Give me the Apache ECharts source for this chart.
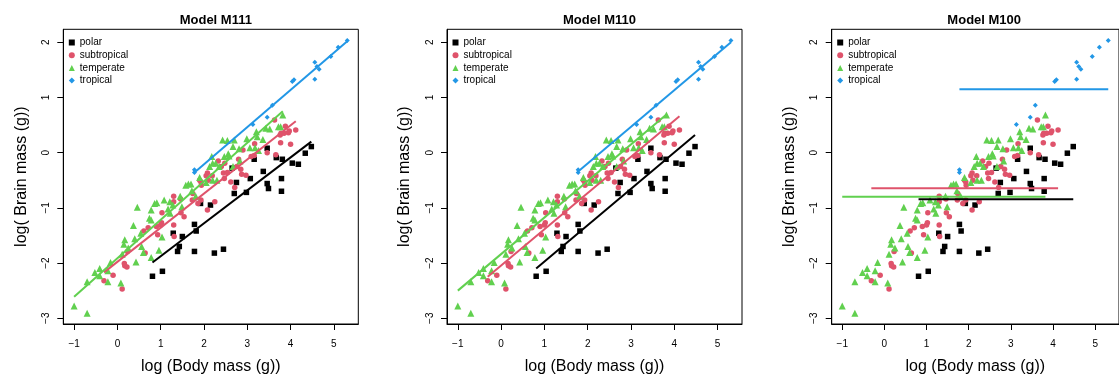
<!DOCTYPE html>
<html>
<head>
<meta charset="utf-8">
<script src="https://cdn.jsdelivr.net/npm/echarts@6/dist/echarts.min.js"></script>
<style>
html,body{margin:0;padding:0;background:#fff;}
#chart{width:1119px;height:381px;}
</style>
</head>
<body>
<div id="chart"></div>
<script>
// ---------- data ----------
const groups = ['polar', 'subtropical', 'temperate', 'tropical'];
const panelTitles = ['Model M111', 'Model M110', 'Model M100'];
const xTicks = [-1, 0, 1, 2, 3, 4, 5];
const yTicks = [-3, -2, -1, 0, 1, 2];
const xName = 'log (Body mass (g))';
const yName = 'log( Brain mass (g))';

const polar = [
  [0.81,-2.24],[1.04,-2.15],[1.29,-1.46],[1.50,-1.52],[1.43,-1.70],[1.39,-1.79],
  [1.78,-1.30],[1.82,-1.42],[1.78,-1.79],[1.92,-0.92],[2.15,-0.95],[2.24,-1.82],
  [2.45,-1.75],[2.65,-0.28],[2.75,-0.54],[2.70,-0.74],[2.98,-0.72],[3.07,-0.47],
  [3.16,-0.12],[3.37,-0.34],[3.46,0.08],[3.46,-0.56],[3.49,-0.65],[3.67,-0.09],
  [3.81,-0.12],[3.79,-0.47],[3.79,-0.70],[4.04,-0.19],[4.18,-0.21],[4.34,-0.01],
  [4.48,0.11]
];
const subtropical = [
  [-0.31,-2.32],[-0.10,-2.22],[0.11,-2.47],[0.16,-2.01],[0.17,-2.05],[0.22,-2.07],
  [0.23,-1.79],[0.64,-1.82],[0.61,-1.42],[0.71,-1.36],[0.93,-1.49],[0.90,-1.34],
  [1.00,-1.31],[1.02,-1.27],[1.03,-1.09],[1.30,-0.79],[1.30,-0.89],[1.30,-1.31],
  [1.31,-1.52],[1.46,-0.84],[1.47,-1.09],[1.54,-1.16],[1.74,-0.74],[1.73,-0.86],
  [1.86,-0.92],[1.90,-0.50],[1.94,-0.59],[2.05,-0.42],[2.08,-0.37],[2.08,-1.04],
  [2.10,-0.50],[2.25,-0.89],[2.33,-0.15],[2.45,-0.37],[2.48,-0.19],[2.54,-0.36],
  [2.62,-0.53],[2.71,-0.63],[2.76,-0.25],[2.80,-0.12],[2.85,-0.30],[2.87,-0.39],
  [2.90,0.05],[2.97,-0.41],[3.09,-0.07],[3.17,0.16],[3.16,-0.05],[3.46,0.00],
  [3.63,0.59],[3.66,-0.04],[3.77,0.18],[3.76,0.32],[3.78,0.35],[3.85,0.35],
  [3.88,0.48],[3.95,0.36],[3.97,0.39],[4.00,0.15],[4.12,0.41],
  [1.93,-0.53],[2.40,-0.25],[2.47,-0.47],[1.93,-0.86],[2.19,-0.42]
];
const temperate = [
  [-1.00,-2.78],[-0.70,-2.91],[-0.70,-2.34],[-0.52,-2.17],[-0.41,-2.10],[-0.41,-2.23],
  [-0.22,-2.14],[-0.22,-2.34],[-0.16,-1.99],[0.08,-2.36],[0.11,-1.84],[0.17,-1.58],
  [0.15,-1.66],[0.25,-1.73],[0.37,-1.32],[0.40,-1.56],[0.43,-1.98],[0.46,-0.99],
  [0.54,-1.46],[0.56,-1.70],[0.60,-1.81],[0.78,-1.90],[0.74,-1.19],[0.78,-1.22],
  [0.78,-1.04],[0.86,-0.92],[0.91,-0.91],[0.96,-1.77],[1.03,-1.53],[1.08,-0.86],
  [1.17,-1.02],[1.22,-1.10],[1.28,-0.95],[1.21,-0.89],[1.45,-0.79],[1.49,-0.98],
  [1.58,-0.59],[1.64,-0.57],[1.70,-0.57],[1.72,-0.69],[1.81,-0.79],[1.90,-0.45],
  [2.05,-0.54],[2.13,-0.25],[2.18,-0.07],[2.20,-0.19],[2.27,-0.19],[2.30,-0.50],
  [2.20,-0.50],[2.35,-0.25],[2.43,0.23],[2.54,0.22],[2.56,-0.02],[2.58,-0.06],
  [2.47,-0.07],[2.67,0.11],[2.67,-0.25],[2.70,0.23],[2.81,0.07],[2.83,-0.15],
  [2.99,0.25],[3.06,0.09],[3.18,0.09],[3.21,0.38],[3.23,0.29],[3.26,0.04],
  [3.36,0.24],[3.43,0.44],[3.52,0.43],[3.72,0.47],[3.77,0.47],[3.82,0.68]
];
const tropical = [
  [1.78,-0.31],[1.78,-0.36],[3.13,0.51],[3.46,0.64],[3.58,0.86],[4.04,1.29],
  [4.08,1.32],[4.56,1.64],[4.56,1.33],[4.61,1.56],[4.66,1.51],[4.93,1.74],
  [5.10,1.91],[5.31,2.03]
];

// fitted lines (end points), one array per group per model
const m111Polar = [[0.81,-1.99],[4.48,0.20]];
const m111Subtropical = [[-0.31,-2.17],[4.12,0.57]];
const m111Temperate = [[-1.00,-2.61],[3.82,0.75]];
const m111Tropical = [[1.78,-0.36],[5.31,2.02]];

const m110Polar = [[0.81,-2.10],[4.48,0.32]];
const m110Subtropical = [[-0.31,-2.25],[4.12,0.66]];
const m110Temperate = [[-1.00,-2.50],[3.82,0.69]];
const m110Tropical = [[1.78,-0.34],[5.31,2.00]];

const m100Polar = [[0.81,-0.845],[4.48,-0.845]];
const m100Subtropical = [[-0.31,-0.645],[4.12,-0.645]];
const m100Temperate = [[-1.00,-0.80],[3.82,-0.80]];
const m100Tropical = [[1.78,1.148],[5.31,1.148]];

// ---------- styling ----------
const points = [polar, subtropical, temperate, tropical];
const fits = [
  [m111Polar, m111Subtropical, m111Temperate, m111Tropical],
  [m110Polar, m110Subtropical, m110Temperate, m110Tropical],
  [m100Polar, m100Subtropical, m100Temperate, m100Tropical]
];
const colors = ['#000000', '#DF536B', '#61D04F', '#2297E6'];
const symbols = ['rect', 'circle', 'triangle', 'diamond'];
const symbolSizes = [5.5, 5.5, 7, 5];
const gridLefts = [63.3, 447, 831.7];
const gridTop = 29.3, gridW = 295, gridH = 294.7;
const FONT = '"Liberation Sans", Arial, Helvetica, sans-serif';

const option = {
  animation: false,
  backgroundColor: '#fff',
  textStyle: { fontFamily: FONT },
  title: [], grid: [], xAxis: [], yAxis: [], legend: [], series: []
};

for (let p = 0; p < 3; p++) {
  const L = gridLefts[p];
  option.title.push({
    text: panelTitles[p], left: L + gridW / 2, top: 9, textAlign: 'center',
    textStyle: { fontFamily: FONT, fontSize: 13, fontWeight: 'bold', color: '#000' }
  });
  option.grid.push({
    left: L, top: gridTop, width: gridW, height: gridH,
    show: true, borderColor: '#000', borderWidth: 1, backgroundColor: 'transparent'
  });
  option.xAxis.push({
    type: 'value', gridIndex: p, min: -1.25, max: 5.565, position: 'bottom',
    name: xName, nameLocation: 'middle', nameGap: 35,
    nameTextStyle: { fontFamily: FONT, fontSize: 16, color: '#000' },
    axisLine: { show: true, onZero: false, lineStyle: { color: '#000', width: 1 } },
    axisTick: { show: true, length: 6, customValues: xTicks, lineStyle: { color: '#000' } },
    axisLabel: { customValues: xTicks, fontFamily: FONT, fontSize: 10, color: '#000', margin: 15,
      formatter: v => String(v).replace('-', '\u2212') },
    splitLine: { show: false }
  });
  option.yAxis.push({
    type: 'value', gridIndex: p, min: -3.105, max: 2.235, position: 'left',
    name: yName, nameLocation: 'middle', nameGap: 34, nameRotate: 90,
    nameTextStyle: { fontFamily: FONT, fontSize: 16, color: '#000' },
    axisLine: { show: true, onZero: false, lineStyle: { color: '#000', width: 1 } },
    axisTick: { show: true, length: 6, customValues: yTicks, lineStyle: { color: '#000' } },
    axisLabel: { customValues: yTicks, rotate: 90, fontFamily: FONT, fontSize: 10, color: '#000', margin: 12,
      formatter: v => String(v).replace('-', '\u2212') },
    splitLine: { show: false }
  });
  option.legend.push({
    orient: 'vertical', left: L + 5.5, top: 36.5, padding: 0,
    itemWidth: 6, itemHeight: 6, itemGap: 0.7, selectedMode: false,
    textStyle: { fontFamily: FONT, fontSize: 10, color: '#000', lineHeight: 12 },
    data: groups.map((g, i) => ({ name: g, icon: symbols[i], itemStyle: { color: colors[i] } }))
  });
  for (let g = 0; g < 4; g++) {
    option.series.push({
      type: 'scatter', name: groups[g], xAxisIndex: p, yAxisIndex: p,
      data: points[g], symbol: symbols[g], symbolSize: symbolSizes[g],
      itemStyle: { color: colors[g], opacity: 1 }, silent: true
    });
  }
  for (let g = 0; g < 4; g++) {
    option.series.push({
      type: 'line', name: 'fit ' + groups[g], xAxisIndex: p, yAxisIndex: p,
      data: fits[p][g], showSymbol: false, symbol: 'none',
      lineStyle: { color: colors[g], width: 2 }, silent: true
    });
  }
}

const chart = echarts.init(document.getElementById('chart'), null, { renderer: 'canvas' });
chart.setOption(option);
</script>
</body>
</html>
